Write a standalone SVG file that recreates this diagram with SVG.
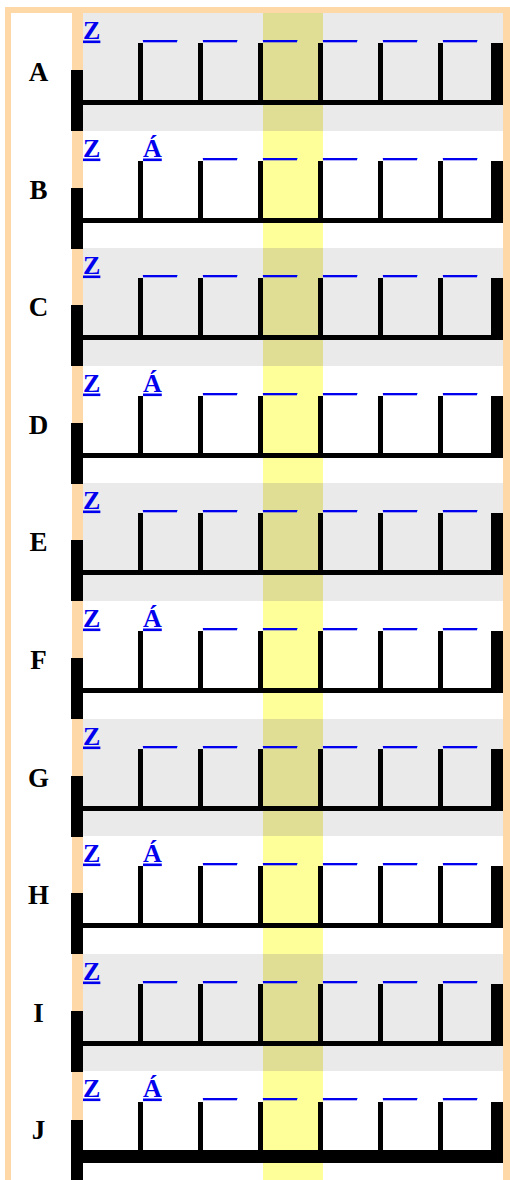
<svg xmlns="http://www.w3.org/2000/svg" width="510" height="1180" viewBox="0 0 510 1180">
<style>
.lbl{font-family:"Liberation Serif","Times New Roman",serif;font-weight:bold;font-size:27px;fill:#000;text-anchor:middle}
.lnk{font-family:"Liberation Serif","Times New Roman",serif;font-weight:bold;font-size:26px;fill:#0000EE;text-decoration:underline}
.us{font-family:"Liberation Serif","Times New Roman",serif;font-size:23px;fill:#0000EE;text-decoration:underline}
.g{fill:#EAEAEA}
.w{fill:#FFFFFF}
.hg{fill:#E0DE94}
.hw{fill:#FFFF99}
.k{fill:#000}
</style>
<defs>
<g id="frame">
<rect class="k" x="71" y="57" width="12" height="61"/>
<rect class="k" x="138" y="30" width="5" height="62"/>
<rect class="k" x="198" y="30" width="5" height="62"/>
<rect class="k" x="258" y="30" width="5" height="62"/>
<rect class="k" x="318" y="30" width="5" height="62"/>
<rect class="k" x="378" y="30" width="5" height="62"/>
<rect class="k" x="438" y="30" width="5" height="62"/>
<rect class="k" x="491" y="30" width="12" height="62"/>
<rect class="k" x="83" y="87" width="420" height="5"/>
</g>
</defs>
<rect x="5" y="7" width="505" height="1173" fill="#FFD8A8"/>
<rect x="11" y="13" width="61" height="1167" fill="#FFFFFF"/>

<g id="row-A" transform="translate(0,13)">
<rect class="g" x="83" y="0" width="420" height="118"/><rect class="hg" x="263" y="0" width="60" height="118"/>
<use href="#frame"/>
<text class="lbl" x="38.5" y="68">A</text>
<text class="lnk" x="83" y="25.5">Z</text>
<text class="us" x="143" y="25" textLength="34" lengthAdjust="spacingAndGlyphs">___</text>
<text class="us" x="203" y="25" textLength="34" lengthAdjust="spacingAndGlyphs">___</text>
<text class="us" x="263" y="25" textLength="34" lengthAdjust="spacingAndGlyphs">___</text>
<text class="us" x="323" y="25" textLength="34" lengthAdjust="spacingAndGlyphs">___</text>
<text class="us" x="383" y="25" textLength="34" lengthAdjust="spacingAndGlyphs">___</text>
<text class="us" x="443" y="25" textLength="34" lengthAdjust="spacingAndGlyphs">___</text>
</g>

<g id="row-B" transform="translate(0,131)">
<rect class="w" x="83" y="0" width="420" height="118"/><rect class="hw" x="263" y="0" width="60" height="118"/>
<use href="#frame"/>
<text class="lbl" x="38.5" y="68">B</text>
<text class="lnk" x="83" y="25.5">Z</text>
<text class="lnk" x="143" y="25.5">Á</text>
<text class="us" x="203" y="25" textLength="34" lengthAdjust="spacingAndGlyphs">___</text>
<text class="us" x="263" y="25" textLength="34" lengthAdjust="spacingAndGlyphs">___</text>
<text class="us" x="323" y="25" textLength="34" lengthAdjust="spacingAndGlyphs">___</text>
<text class="us" x="383" y="25" textLength="34" lengthAdjust="spacingAndGlyphs">___</text>
<text class="us" x="443" y="25" textLength="34" lengthAdjust="spacingAndGlyphs">___</text>
</g>

<g id="row-C" transform="translate(0,248)">
<rect class="g" x="83" y="0" width="420" height="118"/><rect class="hg" x="263" y="0" width="60" height="118"/>
<use href="#frame"/>
<text class="lbl" x="38.5" y="68">C</text>
<text class="lnk" x="83" y="25.5">Z</text>
<text class="us" x="143" y="25" textLength="34" lengthAdjust="spacingAndGlyphs">___</text>
<text class="us" x="203" y="25" textLength="34" lengthAdjust="spacingAndGlyphs">___</text>
<text class="us" x="263" y="25" textLength="34" lengthAdjust="spacingAndGlyphs">___</text>
<text class="us" x="323" y="25" textLength="34" lengthAdjust="spacingAndGlyphs">___</text>
<text class="us" x="383" y="25" textLength="34" lengthAdjust="spacingAndGlyphs">___</text>
<text class="us" x="443" y="25" textLength="34" lengthAdjust="spacingAndGlyphs">___</text>
</g>

<g id="row-D" transform="translate(0,366)">
<rect class="w" x="83" y="0" width="420" height="118"/><rect class="hw" x="263" y="0" width="60" height="118"/>
<use href="#frame"/>
<text class="lbl" x="38.5" y="68">D</text>
<text class="lnk" x="83" y="25.5">Z</text>
<text class="lnk" x="143" y="25.5">Á</text>
<text class="us" x="203" y="25" textLength="34" lengthAdjust="spacingAndGlyphs">___</text>
<text class="us" x="263" y="25" textLength="34" lengthAdjust="spacingAndGlyphs">___</text>
<text class="us" x="323" y="25" textLength="34" lengthAdjust="spacingAndGlyphs">___</text>
<text class="us" x="383" y="25" textLength="34" lengthAdjust="spacingAndGlyphs">___</text>
<text class="us" x="443" y="25" textLength="34" lengthAdjust="spacingAndGlyphs">___</text>
</g>

<g id="row-E" transform="translate(0,483)">
<rect class="g" x="83" y="0" width="420" height="118"/><rect class="hg" x="263" y="0" width="60" height="118"/>
<use href="#frame"/>
<text class="lbl" x="38.5" y="68">E</text>
<text class="lnk" x="83" y="25.5">Z</text>
<text class="us" x="143" y="25" textLength="34" lengthAdjust="spacingAndGlyphs">___</text>
<text class="us" x="203" y="25" textLength="34" lengthAdjust="spacingAndGlyphs">___</text>
<text class="us" x="263" y="25" textLength="34" lengthAdjust="spacingAndGlyphs">___</text>
<text class="us" x="323" y="25" textLength="34" lengthAdjust="spacingAndGlyphs">___</text>
<text class="us" x="383" y="25" textLength="34" lengthAdjust="spacingAndGlyphs">___</text>
<text class="us" x="443" y="25" textLength="34" lengthAdjust="spacingAndGlyphs">___</text>
</g>

<g id="row-F" transform="translate(0,601)">
<rect class="w" x="83" y="0" width="420" height="118"/><rect class="hw" x="263" y="0" width="60" height="118"/>
<use href="#frame"/>
<text class="lbl" x="38.5" y="68">F</text>
<text class="lnk" x="83" y="25.5">Z</text>
<text class="lnk" x="143" y="25.5">Á</text>
<text class="us" x="203" y="25" textLength="34" lengthAdjust="spacingAndGlyphs">___</text>
<text class="us" x="263" y="25" textLength="34" lengthAdjust="spacingAndGlyphs">___</text>
<text class="us" x="323" y="25" textLength="34" lengthAdjust="spacingAndGlyphs">___</text>
<text class="us" x="383" y="25" textLength="34" lengthAdjust="spacingAndGlyphs">___</text>
<text class="us" x="443" y="25" textLength="34" lengthAdjust="spacingAndGlyphs">___</text>
</g>

<g id="row-G" transform="translate(0,719)">
<rect class="g" x="83" y="0" width="420" height="118"/><rect class="hg" x="263" y="0" width="60" height="118"/>
<use href="#frame"/>
<text class="lbl" x="38.5" y="68">G</text>
<text class="lnk" x="83" y="25.5">Z</text>
<text class="us" x="143" y="25" textLength="34" lengthAdjust="spacingAndGlyphs">___</text>
<text class="us" x="203" y="25" textLength="34" lengthAdjust="spacingAndGlyphs">___</text>
<text class="us" x="263" y="25" textLength="34" lengthAdjust="spacingAndGlyphs">___</text>
<text class="us" x="323" y="25" textLength="34" lengthAdjust="spacingAndGlyphs">___</text>
<text class="us" x="383" y="25" textLength="34" lengthAdjust="spacingAndGlyphs">___</text>
<text class="us" x="443" y="25" textLength="34" lengthAdjust="spacingAndGlyphs">___</text>
</g>

<g id="row-H" transform="translate(0,836)">
<rect class="w" x="83" y="0" width="420" height="118"/><rect class="hw" x="263" y="0" width="60" height="118"/>
<use href="#frame"/>
<text class="lbl" x="38.5" y="68">H</text>
<text class="lnk" x="83" y="25.5">Z</text>
<text class="lnk" x="143" y="25.5">Á</text>
<text class="us" x="203" y="25" textLength="34" lengthAdjust="spacingAndGlyphs">___</text>
<text class="us" x="263" y="25" textLength="34" lengthAdjust="spacingAndGlyphs">___</text>
<text class="us" x="323" y="25" textLength="34" lengthAdjust="spacingAndGlyphs">___</text>
<text class="us" x="383" y="25" textLength="34" lengthAdjust="spacingAndGlyphs">___</text>
<text class="us" x="443" y="25" textLength="34" lengthAdjust="spacingAndGlyphs">___</text>
</g>

<g id="row-I" transform="translate(0,954)">
<rect class="g" x="83" y="0" width="420" height="118"/><rect class="hg" x="263" y="0" width="60" height="118"/>
<use href="#frame"/>
<text class="lbl" x="38.5" y="68">I</text>
<text class="lnk" x="83" y="25.5">Z</text>
<text class="us" x="143" y="25" textLength="34" lengthAdjust="spacingAndGlyphs">___</text>
<text class="us" x="203" y="25" textLength="34" lengthAdjust="spacingAndGlyphs">___</text>
<text class="us" x="263" y="25" textLength="34" lengthAdjust="spacingAndGlyphs">___</text>
<text class="us" x="323" y="25" textLength="34" lengthAdjust="spacingAndGlyphs">___</text>
<text class="us" x="383" y="25" textLength="34" lengthAdjust="spacingAndGlyphs">___</text>
<text class="us" x="443" y="25" textLength="34" lengthAdjust="spacingAndGlyphs">___</text>
</g>

<g id="row-J" transform="translate(0,1071)">
<rect class="w" x="83" y="0" width="420" height="118"/><rect class="hw" x="263" y="0" width="60" height="118"/>
<rect class="k" x="71" y="49" width="12" height="70"/>
<rect class="k" x="138" y="31" width="5" height="61"/>
<rect class="k" x="198" y="31" width="5" height="61"/>
<rect class="k" x="258" y="31" width="5" height="61"/>
<rect class="k" x="318" y="31" width="5" height="61"/>
<rect class="k" x="378" y="31" width="5" height="61"/>
<rect class="k" x="438" y="31" width="5" height="61"/>
<rect class="k" x="491" y="31" width="12" height="61"/>
<rect class="k" x="83" y="79" width="420" height="13"/>
<text class="lbl" x="38.5" y="68">J</text>
<text class="lnk" x="83" y="25.5">Z</text>
<text class="lnk" x="143" y="25.5">Á</text>
<text class="us" x="203" y="25" textLength="34" lengthAdjust="spacingAndGlyphs">___</text>
<text class="us" x="263" y="25" textLength="34" lengthAdjust="spacingAndGlyphs">___</text>
<text class="us" x="323" y="25" textLength="34" lengthAdjust="spacingAndGlyphs">___</text>
<text class="us" x="383" y="25" textLength="34" lengthAdjust="spacingAndGlyphs">___</text>
<text class="us" x="443" y="25" textLength="34" lengthAdjust="spacingAndGlyphs">___</text>
</g>
</svg>
